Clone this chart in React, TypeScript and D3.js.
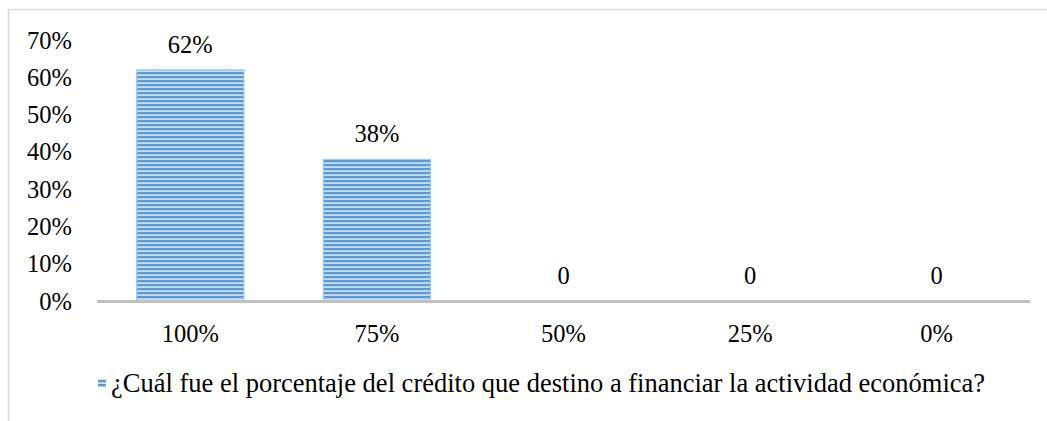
import React from "react";
import * as d3 from "d3";

const categories = ["100%", "75%", "50%", "25%", "0%"];
const values = [0.62, 0.38, 0, 0, 0];
const valueLabels = ["62%", "38%", "0", "0", "0"];
const yTicks = [0, 0.1, 0.2, 0.3, 0.4, 0.5, 0.6, 0.7];
const legendLabel = "¿Cuál fue el porcentaje del crédito que destino a financiar la actividad económica?";

export default function App() {
  const W = 1047, H = 421;
  const x = d3.scaleBand<string>().domain(categories).range([97, 1030]).paddingInner(0.425).paddingOuter(0.2125);
  const y = d3.scaleLinear().domain([0, 0.7]).range([301, 40]);
  const font = "'Liberation Serif'";
  const ts = { fontFamily: font, fontSize: "24.5px" };
  const ls = { fontFamily: font, fontSize: "26.5px" };
  return (
    <svg width={W} height={H} style={{ position: "absolute", left: 0, top: 0, background: "#fff" }}>
      <defs>
        <pattern id="stripes" width="8" height="4" patternUnits="userSpaceOnUse">
          <rect x="0" y="0" width="8" height="4" fill="#C9DDF2" />
          <rect x="0" y="0" width="8" height="2.2" fill="#5B9BD5" />
        </pattern>
      </defs>
      <rect x={8.5} y={9.5} width={1100} height={500} fill="none" stroke="#D9D9D9" strokeWidth={1.5} />
      {yTicks.map((t) => (
        <text key={t} x={72} y={y(t)} dy="0.35em" textAnchor="end" style={ts} fill="#000">
          {d3.format(".0%")(t)}
        </text>
      ))}
      {categories.map((c, i) => (
        <g key={c}>
          {values[i] > 0 && (
            <rect x={x(c)!} y={y(values[i])} width={x.bandwidth()} height={y(0) - y(values[i])}
              fill="url(#stripes)" stroke="#9DC3E6" strokeWidth={1} />
          )}
          <text x={x(c)! + x.bandwidth() / 2} y={y(values[i]) - 17} textAnchor="middle" style={ts} fill="#000">
            {valueLabels[i]}
          </text>
          <text x={x(c)! + x.bandwidth() / 2} y={342} textAnchor="middle" style={ts} fill="#000">
            {c}
          </text>
        </g>
      ))}
      <line x1={97} x2={1030} y1={y(0) + 0.5} y2={y(0) + 0.5} stroke="#BFBFBF" strokeWidth={3} />
      <rect x={98} y={379} width={8} height={8} fill="url(#stripes)" />
      <text x={111} y={392} style={ls} fill="#000">{legendLabel}</text>
    </svg>
  );
}
